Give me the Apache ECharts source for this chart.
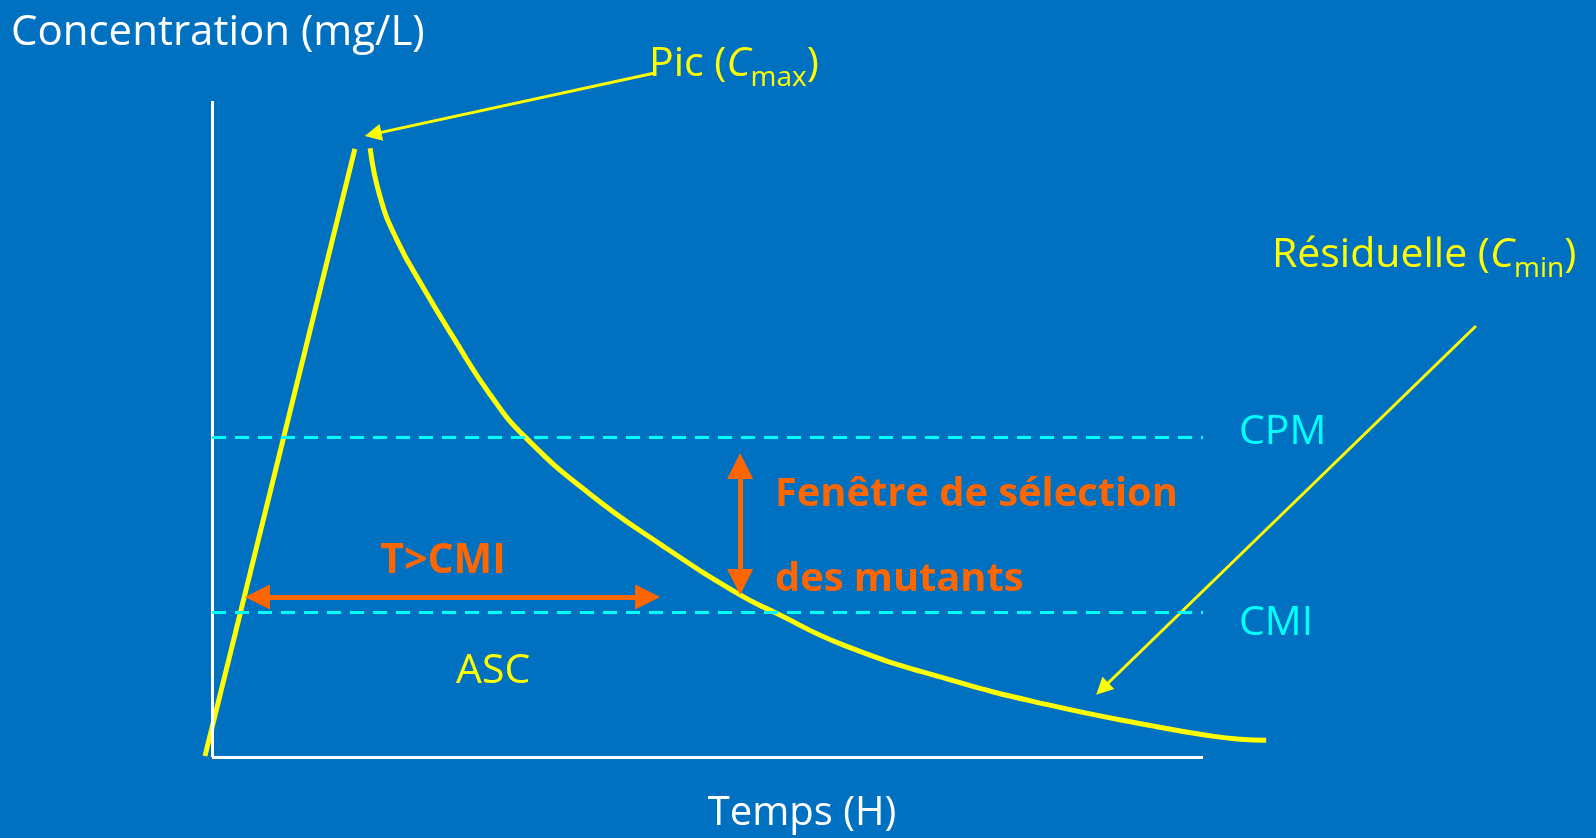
<!DOCTYPE html>
<html><head><meta charset="utf-8">
<script src="https://cdn.jsdelivr.net/npm/echarts@6/dist/echarts.min.js"></script>
<style>html,body{margin:0;padding:0;background:#0070C0;}#c{width:1596px;height:838px;}</style>
</head><body><div id="c"></div>
<script>
// ---- data (time in h, concentration in mg/L) ----
const axisTimeRange = [0, 24];
const axisConcRange = [0, 100];
const riseTime = [-0.17, 3.46];
const riseConc = [0.15, 92.7];
const decayTime = [3.83, 4.07, 4.48, 5.11, 5.84, 6.73, 7.58, 9.15, 10.89, 12.79, 13.61, 15.28, 17.80, 20.29, 22.81, 24.05, 24.90, 25.53];
const decayConc = [92.8, 85.4, 78.8, 71.6, 64.0, 55.3, 48.8, 40.1, 32.3, 24.7, 22.1, 17.1, 11.9, 7.9, 4.7, 3.35, 2.7, 2.55];
const thresholdNames = ['CPM', 'CMI'];
const thresholdValues = [48.8, 22.0];
const axisTitles = ['Concentration (mg/L)', 'Temps (H)'];
const tmicArrow = [[1.10, 24.39], [10.55, 24.39]];
const windowArrow = [[12.79, 44.36], [12.79, 26.68]];
const peakPointer = [[10.75, 104.3], [3.90, 94.95]];
const troughPointer = [[30.61, 65.7], [21.56, 10.4]];
const texts = { tmic: 'T>CMI', win1: 'Fenêtre de sélection', win2: 'des mutants', auc: 'ASC' };

const FONT = '"Open Sans", "Noto Sans", sans-serif';
const YELLOW = '#FFFF00', ORANGE = '#FF6600', CYAN = '#00FFFF', WHITE = '#FFFFFF';

const chart = echarts.init(document.getElementById('c'), null, { renderer: 'canvas' });
const zip = (a, b) => a.map((v, i) => [v, b[i]]);
const hidden = { axisLine: { show: false }, axisTick: { show: false }, axisLabel: { show: false }, splitLine: { show: false } };

chart.setOption({
  animation: false,
  backgroundColor: '#0070C0',
  // the x scale runs a little past the drawn axis so the curve overhang stays inside the scale
  grid: { left: 170.71, top: 101, width: 1114.875, height: 656, containLabel: false },
  xAxis: Object.assign({ type: 'value', min: -1, max: 26 }, hidden),
  yAxis: Object.assign({ type: 'value', min: axisConcRange[0], max: axisConcRange[1] }, hidden),
  series: [
    { type: 'line', data: [], z: 1, silent: true,
      markLine: { silent: true, symbol: 'none', label: { show: false },
        lineStyle: { color: WHITE, width: 3, type: 'solid' },
        data: [
          [{ coord: [axisTimeRange[0], axisConcRange[0]] }, { coord: [axisTimeRange[1], axisConcRange[0]] }],
          [{ coord: [axisTimeRange[0], axisConcRange[0]] }, { coord: [axisTimeRange[0], axisConcRange[1]] }]
        ] } },
    { type: 'line', data: [], z: 1, silent: true,
      markLine: { silent: true, symbol: 'none', label: { show: false },
        lineStyle: { color: CYAN, width: 3, type: [14, 9] },
        data: thresholdValues.map((v, i) => [
          { name: thresholdNames[i], coord: [axisTimeRange[0], v] },
          { coord: [axisTimeRange[1], v] }]) } },
    { type: 'line', data: zip(riseTime, riseConc), clip: false, showSymbol: false, z: 3,
      lineStyle: { color: YELLOW, width: 5 } },
    { type: 'line', data: zip(decayTime, decayConc), clip: false, showSymbol: false, smooth: 0.5, z: 3,
      lineStyle: { color: YELLOW, width: 5 } },
    { type: 'lines', coordinateSystem: 'cartesian2d', clip: false, z: 4,
      symbol: ['triangle', 'triangle'], symbolSize: 25,
      lineStyle: { color: ORANGE, width: 5, opacity: 1 }, itemStyle: { color: ORANGE },
      data: [{ coords: tmicArrow }, { coords: windowArrow, symbolSize: 26 }] },
    { type: 'lines', coordinateSystem: 'cartesian2d', clip: false, z: 4,
      symbol: ['none', 'triangle'], symbolSize: 17,
      lineStyle: { color: YELLOW, width: 3, opacity: 1 }, itemStyle: { color: YELLOW },
      data: [{ coords: peakPointer }, { coords: troughPointer }] }
  ],
  graphic: [
    { type: 'text', x: 11, y: 33, style: { text: axisTitles[0], fill: WHITE, fontSize: 42, fontFamily: FONT, align: 'left', verticalAlign: 'middle' } },
    { type: 'text', x: 802, y: 814, style: { text: axisTitles[1], fill: WHITE, fontSize: 40, fontFamily: FONT, align: 'center', verticalAlign: 'middle' } },
    { type: 'text', x: 649, y: 64, style: { text: '{n|Pic (}{i|C}{s|max}{n|)}', fill: YELLOW, fontFamily: FONT, align: 'left', verticalAlign: 'middle',
        rich: { n: { fontSize: 41, lineHeight: 56, fill: YELLOW, fontFamily: FONT },
                i: { fontSize: 41, lineHeight: 56, fontStyle: 'italic', fill: YELLOW, fontFamily: FONT },
                s: { fontSize: 28, lineHeight: 28, verticalAlign: 'bottom', fill: YELLOW, fontFamily: FONT } } } },
    { type: 'text', x: 1272, y: 255, style: { text: '{n|Résiduelle (}{i|C}{s|min}{n|)}', fill: YELLOW, fontFamily: FONT, align: 'left', verticalAlign: 'middle',
        rich: { n: { fontSize: 41, lineHeight: 56, fill: YELLOW, fontFamily: FONT },
                i: { fontSize: 41, lineHeight: 56, fontStyle: 'italic', fill: YELLOW, fontFamily: FONT },
                s: { fontSize: 28, lineHeight: 28, verticalAlign: 'bottom', fill: YELLOW, fontFamily: FONT } } } },
    { type: 'text', x: 1239, y: 432, style: { text: thresholdNames[0], fill: CYAN, fontSize: 41, fontFamily: FONT, align: 'left', verticalAlign: 'middle' } },
    { type: 'text', x: 1239, y: 623, style: { text: thresholdNames[1], fill: CYAN, fontSize: 41, fontFamily: FONT, align: 'left', verticalAlign: 'middle' } },
    { type: 'text', x: 775, y: 495, style: { text: texts.win1, fill: ORANGE, fontSize: 39.8, fontWeight: 'bold', fontFamily: FONT, align: 'left', verticalAlign: 'middle' } },
    { type: 'text', x: 775, y: 580, style: { text: texts.win2, fill: ORANGE, fontSize: 39.8, fontWeight: 'bold', fontFamily: FONT, align: 'left', verticalAlign: 'middle' } },
    { type: 'text', x: 443, y: 561, style: { text: texts.tmic, fill: ORANGE, fontSize: 41, fontWeight: 'bold', fontFamily: FONT, align: 'center', verticalAlign: 'middle' } },
    { type: 'text', x: 456, y: 671, style: { text: texts.auc, fill: YELLOW, fontSize: 41, fontFamily: FONT, align: 'left', verticalAlign: 'middle' } }
  ]
});
</script></body></html>
